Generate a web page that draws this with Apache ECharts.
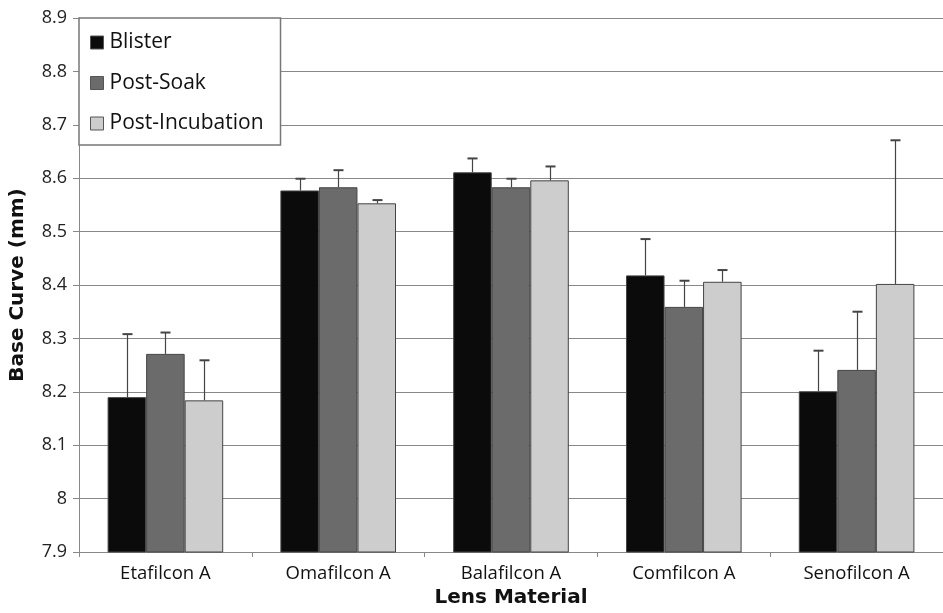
<!DOCTYPE html>
<html>
<head>
<meta charset="utf-8">
<script src="https://cdn.jsdelivr.net/npm/echarts@6/dist/echarts.min.js"></script>
<style>html,body{margin:0;padding:0;background:#fff}#c{width:943px;height:613px}</style>
</head>
<body>
<div id="c"></div>
<script>
const categories = ['Etafilcon A', 'Omafilcon A', 'Balafilcon A', 'Comfilcon A', 'Senofilcon A'];
const seriesNames = ['Blister', 'Post-Soak', 'Post-Incubation'];
const blister = [8.190, 8.577, 8.611, 8.418, 8.201];
const postSoak = [8.271, 8.583, 8.583, 8.359, 8.241];
const postIncubation = [8.184, 8.553, 8.596, 8.406, 8.402];
const blisterErrTop = [8.308, 8.599, 8.637, 8.486, 8.277];
const postSoakErrTop = [8.311, 8.615, 8.599, 8.408, 8.350];
const postIncubationErrTop = [8.259, 8.559, 8.622, 8.428, 8.671];
const yTicks = { min: 7.9, max: 8.9, interval: 0.1 };

const values = [blister, postSoak, postIncubation];
const errTops = [blisterErrTop, postSoakErrTop, postIncubationErrTop];
const colors = ['#0b0b0b', '#6b6b6b', '#cdcdcd'];
const BAR_FRAC = 0.223;
const FONT = '"Open Sans", "Noto Sans", sans-serif';
const BOLD_FONT = '"DejaVu Sans", "Open Sans", sans-serif';

const chart = echarts.init(document.getElementById('c'));

const barSeries = seriesNames.map((name, i) => ({
  name: name,
  type: 'bar',
  data: values[i],
  barWidth: (BAR_FRAC * 100) + '%',
  barGap: '0%',
  itemStyle: { color: colors[i], borderColor: '#444', borderWidth: 1 },
  emphasis: { disabled: true },
  z: 2
}));

const errSeries = seriesNames.map((name, i) => ({
  name: name + ' err',
  type: 'custom',
  data: categories.map((c, k) => [k, values[i][k], errTops[i][k]]),
  encode: { x: 0, y: [1, 2] },
  renderItem: function (params, api) {
    const k = api.value(0);
    const base = api.coord([k, api.value(1)]);
    const top = api.coord([k, api.value(2)]);
    const band = api.size([1, 0])[0];
    const bw = band * BAR_FRAC;
    const x = Math.round(base[0] + (i - 1) * bw) + 0.5;
    const cap = 5;
    return {
      type: 'group',
      children: [
        { type: 'line', shape: { x1: x, y1: base[1], x2: x, y2: top[1] }, style: { stroke: '#444', lineWidth: 1.2 } },
        { type: 'line', shape: { x1: x - cap, y1: top[1], x2: x + cap, y2: top[1] }, style: { stroke: '#444', lineWidth: 2 } }
      ]
    };
  },
  z: 3,
  silent: true
}));

chart.setOption({
  animation: false,
  backgroundColor: '#fff',
  textStyle: { fontFamily: FONT },
  grid: { left: 79, right: -8, top: 18, bottom: 56, containLabel: false },
  legend: {
    data: seriesNames,
    orient: 'vertical',
    left: 79,
    top: 18,
    padding: [14, 17, 11, 11],
    itemGap: 19.5,
    itemWidth: 13,
    itemHeight: 13,
    icon: 'rect',
    backgroundColor: '#fff',
    borderColor: '#777',
    borderWidth: 1.5,
    itemStyle: { borderColor: '#555', borderWidth: 1 },
    textStyle: { fontSize: 21, color: '#111', fontFamily: FONT, lineHeight: 21, padding: [0, 0, 0, 1] }
  },
  xAxis: {
    type: 'category',
    data: categories,
    name: 'Lens Material',
    nameLocation: 'middle',
    nameGap: 36,
    nameTextStyle: { fontSize: 20, fontWeight: 'bold', color: '#111', fontFamily: BOLD_FONT },
    axisLine: { lineStyle: { color: '#888', width: 1 } },
    axisTick: { show: true, length: 5, lineStyle: { color: '#888' } },
    axisLabel: { fontSize: 18.5, color: '#111', margin: 12, fontFamily: FONT }
  },
  yAxis: {
    type: 'value',
    min: yTicks.min,
    max: yTicks.max,
    interval: yTicks.interval,
    name: 'Base Curve (mm)',
    nameLocation: 'middle',
    nameGap: 51,
    nameRotate: 90,
    nameTextStyle: { fontSize: 20, fontWeight: 'bold', color: '#111', fontFamily: BOLD_FONT },
    axisLine: { show: true, lineStyle: { color: '#888', width: 1 } },
    axisTick: { show: true, length: 6, lineStyle: { color: '#888' } },
    axisLabel: {
      fontSize: 18, color: '#222', margin: 12, fontFamily: FONT,
      formatter: v => { const r = Math.round(v * 10) / 10; return r === 8 ? '8' : r.toFixed(1); }
    },
    splitLine: { show: true, lineStyle: { color: '#888', width: 1.2 } }
  },
  series: barSeries.concat(errSeries)
});
</script>
</body>
</html>
